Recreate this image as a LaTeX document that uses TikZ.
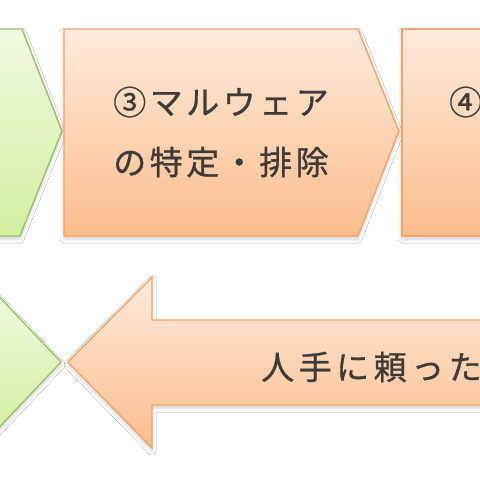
\documentclass[tikz,border=0pt]{standalone}
\usepackage{fontspec}
\newfontfamily\jp{Noto Sans CJK JP}[FakeBold=0.8]
\usetikzlibrary{shadows.blur}
\definecolor{orTop}{HTML}{FDEADC}
\definecolor{orBot}{HTML}{FBBE8C}
\definecolor{orLine}{HTML}{F3A36C}
\definecolor{grTop}{HTML}{EFF8E0}
\definecolor{grBot}{HTML}{D3EFA0}
\definecolor{grLine}{HTML}{9DC069}
\definecolor{txt}{HTML}{3E3A38}
\newcommand{\tk}{\kern3.5pt}
\newcommand{\tkb}{\kern4.5pt}
\begin{document}
\begin{tikzpicture}[x=1pt,y=-1pt,
  orshape/.style={draw=orLine, line width=1.4pt, top color=orTop, bottom color=orBot, line join=miter,
    blur shadow={shadow xshift=0pt, shadow yshift=-3pt, shadow blur radius=4pt, shadow opacity=18}},
  grshape/.style={draw=grLine, line width=1.4pt, top color=grTop, bottom color=grBot, line join=miter,
    blur shadow={shadow xshift=0pt, shadow yshift=-3pt, shadow blur radius=4pt, shadow opacity=18}},
  label/.style={inner sep=0pt, text=txt, font=\jp\fontsize{33}{60}\selectfont, align=center}]
\useasboundingbox (0,0) rectangle (480,480);
\clip (0,0) rectangle (480,480);
\fill[white] (0,0) rectangle (480,480);
% top row
\path[grshape] (-10,29) -- (22,29) -- (62,131) -- (20,236) -- (-10,236) -- cycle;
\path[orshape] (64,29) -- (358,29) -- (399,131) -- (358,236) -- (64,236) -- cycle;
\path[orshape] (402,29) -- (500,29) -- (500,236) -- (402,236) -- cycle;
% bottom row
\path[grshape] (-10,287) -- (61,362) -- (-10,437) -- cycle;
\path[orshape] (68,362) -- (152,277) -- (152,320) -- (500,320) -- (500,405) -- (152,405) -- (152,448) -- cycle;
% texts
\node[label] (t3) at (221,132) {③\tk マ\tk ル\tk ウ\tk ェ\tk ア\\の\tk 特\tk 定\tk ・\tk 排\tk 除};
\node[label, anchor=west] (t4) at (449,102) {④};
\node[label, anchor=west] (tb) at (261,367) {人\tkb 手\tkb に\tkb 頼\tkb っ\tkb た};
\end{tikzpicture}
\end{document}
